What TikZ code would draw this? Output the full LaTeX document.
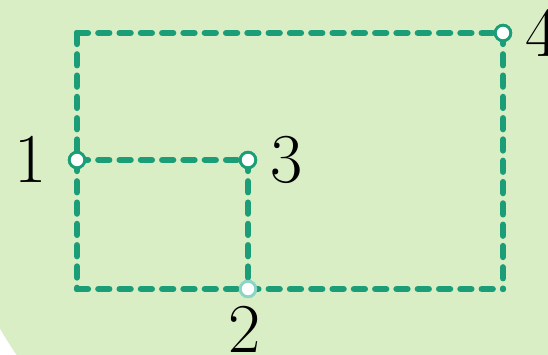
\documentclass[tikz,border=0pt]{standalone}
\usetikzlibrary{calc}
\definecolor{bggreen}{RGB}{217,238,197}
\definecolor{linegreen}{RGB}{27,158,119}
\definecolor{lightteal}{RGB}{140,212,198}
\tikzset{
  conn/.style={draw=linegreen, line width=6.3pt, line cap=round, dash pattern=on 11pt off 10.3pt},
  pt/.style={circle, minimum size=15.5pt, inner sep=0pt, line width=2.8pt, fill=white, draw=linegreen},
  ptlight/.style={pt, draw=lightteal},
  lbl/.style={inner sep=0pt, font=\fontsize{70}{70}\selectfont, text=black}
}
\begin{document}
\begin{tikzpicture}[x=1pt,y=-1pt]
\useasboundingbox (0,0) rectangle (548,354);
\fill[white] (0,0) rectangle (548,354);
\begin{scope}
\clip (0,0) rectangle (548,354);
\fill[bggreen] (330,140) circle (380);
\end{scope}
\coordinate (tl) at (77,33);
\coordinate (bl) at (77,289);
\coordinate (br) at (503,289);
\node[pt] (n1) at (77,160) {};
\node[pt] (n3) at (248,160) {};
\node[pt] (n4) at (503,33) {};
\node[ptlight] (n2) at (248,289) {};
\draw[conn] (tl) -- (n4.center);
\draw[conn] (tl) -- (n1.center);
\draw[conn] (n1.center) -- (bl);
\draw[conn] (bl) -- (br);
\draw[conn] (n4.center) -- (br);
\draw[conn] (n1.center) -- (n3.center);
\draw[conn] (n3.center) -- (n2.center);
\node[pt] at (n1) {};
\node[pt] at (n3) {};
\node[pt] at (n4) {};
\node[ptlight] at (n2) {};
\node[lbl] (l1) at (31,159) {1};
\node[lbl] (l3) at (287,160) {3};
\node[lbl] (l2) at (245,329) {2};
\node[lbl, anchor=west] (l4) at (525,33) {4};
\end{tikzpicture}
\end{document}
